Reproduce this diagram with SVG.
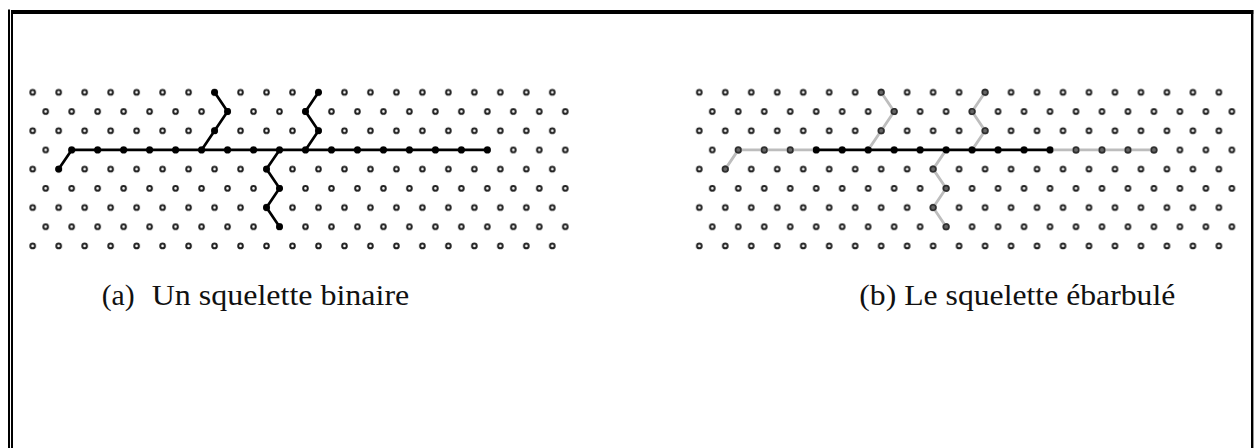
<svg xmlns="http://www.w3.org/2000/svg" xmlns:xlink="http://www.w3.org/1999/xlink" width="1254" height="448" viewBox="0 0 1254 448">
  <style>
    .frame { fill: #000; }
    .caption { font-family: "Liberation Serif", "Times New Roman", serif; font-size: 29px; fill: #111; }
    .edge-black { fill: none; stroke: #000; stroke-width: 2.7; stroke-linejoin: round; stroke-linecap: round; }
    .edge-gray { fill: none; stroke: #bdbdbd; stroke-width: 2.8; stroke-linejoin: round; stroke-linecap: round; }
    .pt-black { fill: #000; }
    .pt-gray { fill: #666; stroke: #2e2e2e; stroke-width: 1.6; }
  </style>
  <defs>
    <pattern id="hexgrid" patternUnits="userSpaceOnUse" x="26.2" y="87.5" width="25.98" height="38.4">
      <circle cx="6.5" cy="4.8" r="2.3" fill="#fff" stroke="#1e1e1e" stroke-width="2"/>
      <circle cx="19.49" cy="24" r="2.3" fill="#fff" stroke="#1e1e1e" stroke-width="2"/>
    </pattern>
    <circle id="dotB" r="3.4" class="pt-black"/>
    <circle id="dotG" r="2.7" class="pt-gray"/>
  </defs>

  <rect width="1254" height="448" fill="#fff"/>

  <g id="frame">
    <rect class="frame" x="8" y="9.5" width="2" height="438.5"/>
    <rect class="frame" x="11" y="10" width="2" height="438"/>
    <rect class="frame" x="11" y="10" width="1242.3" height="4"/>
    <rect class="frame" x="1251" y="10" width="2.4" height="438"/>
  </g>

  <!-- Panel (a): binary skeleton -->
  <g id="panel-a">
    <rect id="grid-a" x="26.2" y="87.5" width="545.6" height="164.5" fill="url(#hexgrid)"/>
    <g id="connectors-a">
      <path class="edge-black" d="M58.68,169.1 L71.68,149.9 L487.36,149.9"/>
      <path class="edge-black" d="M201.58,149.9 L214.56,130.7 L227.56,111.5 L214.56,92.3"/>
      <path class="edge-black" d="M305.5,149.9 L318.48,130.7 L305.5,111.5 L318.48,92.3"/>
      <path class="edge-black" d="M279.52,149.9 L266.52,169.1 L279.52,188.3 L266.52,207.5 L279.52,226.7"/>
    </g>
    <g id="nodes-a">
      <use xlink:href="#dotB" x="58.68" y="169.1"/>
      <use xlink:href="#dotB" x="71.68" y="149.9"/>
      <use xlink:href="#dotB" x="97.66" y="149.9"/>
      <use xlink:href="#dotB" x="123.64" y="149.9"/>
      <use xlink:href="#dotB" x="149.62" y="149.9"/>
      <use xlink:href="#dotB" x="175.6" y="149.9"/>
      <use xlink:href="#dotB" x="201.58" y="149.9"/>
      <use xlink:href="#dotB" x="227.56" y="149.9"/>
      <use xlink:href="#dotB" x="253.54" y="149.9"/>
      <use xlink:href="#dotB" x="279.52" y="149.9"/>
      <use xlink:href="#dotB" x="305.5" y="149.9"/>
      <use xlink:href="#dotB" x="331.48" y="149.9"/>
      <use xlink:href="#dotB" x="357.46" y="149.9"/>
      <use xlink:href="#dotB" x="383.44" y="149.9"/>
      <use xlink:href="#dotB" x="409.42" y="149.9"/>
      <use xlink:href="#dotB" x="435.4" y="149.9"/>
      <use xlink:href="#dotB" x="461.38" y="149.9"/>
      <use xlink:href="#dotB" x="487.36" y="149.9"/>
      <use xlink:href="#dotB" x="214.56" y="130.7"/>
      <use xlink:href="#dotB" x="227.56" y="111.5"/>
      <use xlink:href="#dotB" x="214.56" y="92.3"/>
      <use xlink:href="#dotB" x="318.48" y="130.7"/>
      <use xlink:href="#dotB" x="305.5" y="111.5"/>
      <use xlink:href="#dotB" x="318.48" y="92.3"/>
      <use xlink:href="#dotB" x="266.52" y="169.1"/>
      <use xlink:href="#dotB" x="279.52" y="188.3"/>
      <use xlink:href="#dotB" x="266.52" y="207.5"/>
      <use xlink:href="#dotB" x="279.52" y="226.7"/>
    </g>
    <text id="caption-a" class="caption" y="305"><tspan x="101.7" textLength="33" lengthAdjust="spacingAndGlyphs">(a)</tspan><tspan x="151.7" textLength="257.6" lengthAdjust="spacingAndGlyphs">Un squelette binaire</tspan></text>
  </g>

  <!-- Panel (b): pruned skeleton -->
  <g id="panel-b">
    <g transform="translate(666.6,0)">
      <rect id="grid-b" x="26.2" y="87.5" width="545.6" height="164.5" fill="url(#hexgrid)"/>
    </g>
    <g id="connectors-b" transform="translate(666.6,0)">
      <path class="edge-gray" d="M58.68,169.1 L71.68,149.9 L149.62,149.9"/>
      <path class="edge-gray" d="M383.44,149.9 L487.36,149.9"/>
      <path class="edge-gray" d="M201.58,149.9 L214.56,130.7 L227.56,111.5 L214.56,92.3"/>
      <path class="edge-gray" d="M305.5,149.9 L318.48,130.7 L305.5,111.5 L318.48,92.3"/>
      <path class="edge-gray" d="M279.52,149.9 L266.52,169.1 L279.52,188.3 L266.52,207.5 L279.52,226.7"/>
      <path class="edge-black" d="M149.62,149.9 L383.44,149.9"/>
    </g>
    <g id="nodes-b" transform="translate(666.6,0)">
      <use xlink:href="#dotG" x="58.68" y="169.1"/>
      <use xlink:href="#dotG" x="71.68" y="149.9"/>
      <use xlink:href="#dotG" x="97.66" y="149.9"/>
      <use xlink:href="#dotG" x="123.64" y="149.9"/>
      <use xlink:href="#dotB" x="149.62" y="149.9"/>
      <use xlink:href="#dotB" x="175.6" y="149.9"/>
      <use xlink:href="#dotB" x="201.58" y="149.9"/>
      <use xlink:href="#dotB" x="227.56" y="149.9"/>
      <use xlink:href="#dotB" x="253.54" y="149.9"/>
      <use xlink:href="#dotB" x="279.52" y="149.9"/>
      <use xlink:href="#dotB" x="305.5" y="149.9"/>
      <use xlink:href="#dotB" x="331.48" y="149.9"/>
      <use xlink:href="#dotB" x="357.46" y="149.9"/>
      <use xlink:href="#dotB" x="383.44" y="149.9"/>
      <use xlink:href="#dotG" x="409.42" y="149.9"/>
      <use xlink:href="#dotG" x="435.4" y="149.9"/>
      <use xlink:href="#dotG" x="461.38" y="149.9"/>
      <use xlink:href="#dotG" x="487.36" y="149.9"/>
      <use xlink:href="#dotG" x="214.56" y="130.7"/>
      <use xlink:href="#dotG" x="227.56" y="111.5"/>
      <use xlink:href="#dotG" x="214.56" y="92.3"/>
      <use xlink:href="#dotG" x="318.48" y="130.7"/>
      <use xlink:href="#dotG" x="305.5" y="111.5"/>
      <use xlink:href="#dotG" x="318.48" y="92.3"/>
      <use xlink:href="#dotG" x="266.52" y="169.1"/>
      <use xlink:href="#dotG" x="279.52" y="188.3"/>
      <use xlink:href="#dotG" x="266.52" y="207.5"/>
      <use xlink:href="#dotG" x="279.52" y="226.7"/>
    </g>
    <text id="caption-b" class="caption" x="859.3" y="305" textLength="316" lengthAdjust="spacingAndGlyphs">(b) Le squelette ébarbulé</text>
  </g>
</svg>
